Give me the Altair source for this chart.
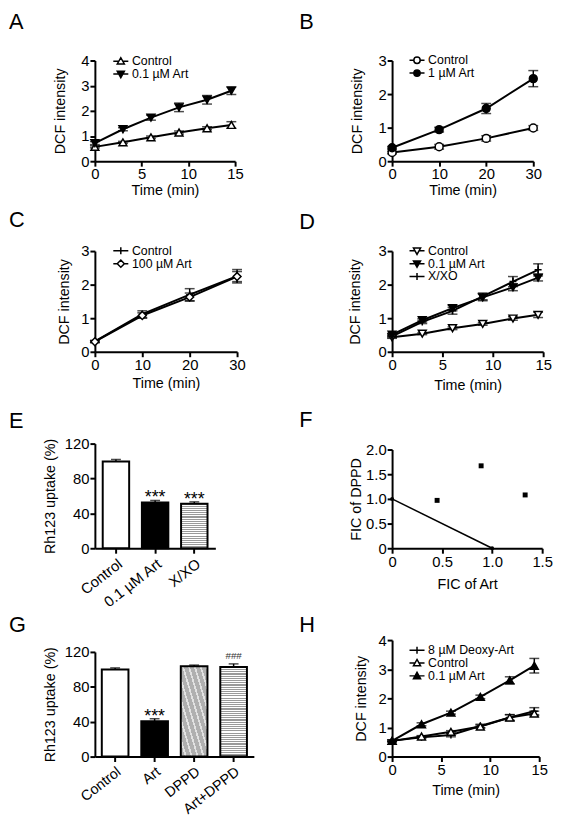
import altair as alt
import pandas as pd

FONT = "Liberation Sans"

# ---------------- data ----------------
# Panel A
A_time = [0, 3, 6, 9, 12, 14.6]
A_ctrl = [0.57, 0.75, 0.95, 1.14, 1.31, 1.44]
A_ctrl_err = [0.04, 0.04, 0.05, 0.06, 0.06, 0.13]
A_art = [0.72, 1.27, 1.73, 2.14, 2.44, 2.80]
A_art_err = [0.06, 0.06, 0.10, 0.17, 0.17, 0.15]
# Panel B
B_time = [0, 10, 20, 30]
B_ctrl = [0.26, 0.43, 0.68, 0.99]
B_ctrl_err = [0.04, 0.07, 0.08, 0.07]
B_art = [0.40, 0.94, 1.57, 2.46]
B_art_err = [0.04, 0.07, 0.15, 0.24]
# Panel C
C_time = [0, 10, 20, 30]
C_ctrl = [0.31, 1.12, 1.70, 2.25]
C_ctrl_err = [0.03, 0.10, 0.18, 0.20]
C_art = [0.30, 1.08, 1.63, 2.24]
C_art_err = [0.03, 0.08, 0.12, 0.15]
# Panel D
D_time = [0, 3, 6, 9, 12, 14.5]
D_ctrl = [0.43, 0.54, 0.70, 0.83, 0.99, 1.10]
D_ctrl_err = [0.03, 0.03, 0.04, 0.04, 0.05, 0.08]
D_art = [0.51, 0.94, 1.30, 1.62, 1.92, 2.21]
D_art_err = [0.04, 0.05, 0.08, 0.10, 0.10, 0.10]
D_xxo = [0.46, 0.89, 1.22, 1.65, 2.09, 2.44]
D_xxo_err = [0.04, 0.05, 0.10, 0.10, 0.15, 0.18]
# Panel E
E_cat = ["Control", "0.1 µM Art", "X/XO"]
E_val = [99.6, 52.5, 51.0]
E_err = [2.2, 2.3, 2.2]
E_sig = ["", "***", "***"]
# Panel F
F_x = [0.45, 0.89, 1.33]
F_y = [0.97, 1.67, 1.08]
F_line_x = [0.0, 1.0]
F_line_y = [1.0, 0.0]
# Panel G
G_cat = ["Control", "Art", "DPPD", "Art+DPPD"]
G_val = [99.9, 40.6, 103.6, 102.8]
G_err = [1.8, 2.8, 1.3, 3.5]
G_sig = ["", "***", "", "###"]
# Panel H
H_time = [0, 3, 6, 9, 12, 14.5]
H_deoxy = [0.54, 0.66, 0.74, 1.05, 1.34, 1.56]
H_deoxy_err = [0.03, 0.04, 0.06, 0.06, 0.10, 0.12]
H_ctrl = [0.54, 0.69, 0.85, 1.03, 1.34, 1.48]
H_ctrl_err = [0.03, 0.03, 0.04, 0.05, 0.10, 0.08]
H_art = [0.54, 1.11, 1.51, 2.05, 2.62, 3.12]
H_art_err = [0.03, 0.05, 0.05, 0.06, 0.12, 0.25]

# ---------------- symbols ----------------
PLUS = "M-1,0H1M0,-1V1"
L_TRI_UP_OPEN = "M-1.9,0H-0.5M0.5,0H1.9M-0.9,0.7L0.9,0.7L0,-0.9Z"
L_TRI_UP = "M-1.9,0H1.9M-0.9,0.7L0.9,0.7L0,-0.9Z"
L_TRI_DOWN_OPEN = "M-1.9,0H-0.5M0.5,0H1.9M-0.9,-0.7L0.9,-0.7L0,0.9Z"
L_TRI_DOWN = "M-1.9,0H1.9M-0.9,-0.7L0.9,-0.7L0,0.9Z"
L_CIRC_OPEN = "M-1.9,0H-0.8M0.8,0H1.9M0.8,0A0.8,0.8,0,1,1,-0.8,0A0.8,0.8,0,1,1,0.8,0Z"
L_CIRC = "M-1.9,0H1.9M0.8,0A0.8,0.8,0,1,1,-0.8,0A0.8,0.8,0,1,1,0.8,0Z"
L_DIAM_OPEN = "M-1.9,0H-0.9M0.9,0H1.9M0,-0.9L0.9,0L0,0.9L-0.9,0Z"
L_PLUS = "M-1.9,0H1.9M0,-0.9V0.9"

TW = "normal"


def stripes(n, c1, c2, frac, x1, y1, x2, y2):
    stops = []
    for i in range(n):
        a = i / n
        b = (i + frac) / n
        c = (i + 1) / n
        stops += [alt.GradientStop(offset=a, color=c1), alt.GradientStop(offset=b, color=c1),
                  alt.GradientStop(offset=b, color=c2), alt.GradientStop(offset=c, color=c2)]
    return alt.Gradient(gradient="linear", stops=stops, x1=x1, y1=y1, x2=x2, y2=y2)


HSTRIPE_E = stripes(21, "#9a9a9a", "#ffffff", 0.5, 0, 0, 0, 1)
HSTRIPE_G = stripes(41, "#9a9a9a", "#ffffff", 0.5, 0, 0, 0, 1)
DIAG_G = stripes(9, "#b0b0b0", "#e2e2e2", 0.7, 0, 1, 1, 0)


def letter_layer(letter, lx, ly):
    return alt.Chart(pd.DataFrame({"label": [letter]})).mark_text(
        font=FONT, fontSize=22, align="left", baseline="alphabetic", color="black"
    ).encode(text="label:N", x=alt.value(lx), y=alt.value(ly))


def line_panel(letter, series, xdom, xticks, ydom, yticks, width, height, yrange,
               legx, legy, rowpad, lx, ly, ytp, xtp):
    rows = []
    for s in series:
        for t, v, e in zip(s[1], s[2], s[3]):
            rows.append({"s": s[0], "t": t, "v": v, "lo": v - e, "hi": v + e})
    df = pd.DataFrame(rows)
    base = alt.Chart(df)
    xs = alt.Scale(domain=xdom, nice=False, zero=False)
    ys = alt.Scale(domain=ydom, nice=False, zero=False, range=yrange)
    xax = alt.Axis(values=xticks, title="Time (min)", titlePadding=xtp, titleFontWeight=TW)
    yax = alt.Axis(values=yticks, title="DCF intensity", titlePadding=ytp, titleFontWeight=TW)
    X = alt.X("t:Q", scale=xs, axis=xax)

    def Y(f):
        return alt.Y(f + ":Q", scale=ys, axis=yax)

    layers = [
        base.mark_line(color="black", strokeWidth=2).encode(x=X, y=Y("v"), detail="s:N"),
        base.mark_rule(color="black", strokeWidth=1.5).encode(x=X, y=Y("lo"), y2="hi:Q"),
        base.mark_tick(orient="horizontal", color="black", size=10, thickness=1.5).encode(x=X, y=Y("lo")),
        base.mark_tick(orient="horizontal", color="black", size=10, thickness=1.5).encode(x=X, y=Y("hi")),
    ]
    for name, tt, vv, ee, shp, fil, lp, lf in series:
        layers.append(
            base.transform_filter(alt.datum.s == name)
            .mark_point(shape=shp, size=(50 if shp == PLUS else 64), filled=True, fill=fil,
                        stroke="black", strokeWidth=1.5, opacity=1)
            .encode(x=X, y=Y("v"))
        )
    names = [s[0] for s in series]
    leg = alt.Legend(orient="none", legendX=legx, legendY=legy, title=None,
                     labelFont=FONT, labelFontSize=12.5, labelColor="black",
                     symbolSize=64, symbolStrokeWidth=1.5, symbolStrokeColor="black",
                     symbolOffset=3, labelOffset=5, rowPadding=rowpad, padding=0)
    layers.append(
        base.transform_filter("false")
        .mark_point(filled=True, strokeWidth=1.5, opacity=1, size=64)
        .encode(
            x=X, y=Y("v"),
            shape=alt.Shape("s:N", scale=alt.Scale(domain=names, range=[s[6] for s in series]), legend=leg),
            fill=alt.Fill("s:N", scale=alt.Scale(domain=names, range=[s[7] for s in series]), legend=leg),
            stroke=alt.Stroke("s:N", scale=alt.Scale(domain=names, range=["black"] * len(names)), legend=leg),
        )
    )
    layers.append(letter_layer(letter, lx, ly))
    return alt.layer(*layers).properties(width=width, height=height)


def bar_panel(letter, cats, vals, errs, sigs, fills, width, height, yrange, po, lx, ly, ytp, lfs):
    df = pd.DataFrame({"c": cats, "v": vals,
                       "hi": [v + e for v, e in zip(vals, errs)], "sig": sigs})
    base = alt.Chart(df)
    X = alt.X("c:N", sort=cats, scale=alt.Scale(paddingInner=0.325, paddingOuter=po),
              axis=alt.Axis(title=None, labelAngle=-38, labelAlign="right", labelBaseline="top",
                            labelFontSize=lfs, labelPadding=3))
    ys = alt.Scale(domain=[0, 120], nice=False, range=yrange)
    yax = alt.Axis(values=[0, 40, 80, 120], title="Rh123 uptake (%)", titlePadding=ytp, titleFontWeight=TW)

    def Y(f):
        return alt.Y(f + ":Q", scale=ys, axis=yax)

    layers = []
    for c, f in zip(cats, fills):
        layers.append(base.transform_filter(alt.datum.c == c)
                      .mark_bar(fill=f, stroke="black", strokeWidth=2)
                      .encode(x=X, y=Y("v")))
    layers.append(base.mark_rule(color="black", strokeWidth=1.5).encode(x=X, y=Y("v"), y2="hi:Q"))
    layers.append(base.mark_tick(orient="horizontal", color="black", size=10, thickness=1.5)
                  .encode(x=X, y=Y("hi")))
    layers.append(base.transform_filter(alt.datum.sig == "***")
                  .mark_text(font=FONT, fontSize=18, baseline="alphabetic", dy=3, color="black")
                  .encode(x=X, y=Y("hi"), text="sig:N"))
    layers.append(base.transform_filter(alt.datum.sig == "###")
                  .mark_text(font=FONT, fontSize=10, baseline="alphabetic", dy=-4.5, color="#333333")
                  .encode(x=X, y=Y("hi"), text="sig:N"))
    layers.append(letter_layer(letter, lx, ly))
    return alt.layer(*layers).properties(width=width, height=height)


def fic_panel(width, height, yrange, lx, ly):
    pts = pd.DataFrame({"x": F_x, "y": F_y})
    ln = pd.DataFrame({"x": F_line_x, "y": F_line_y})
    fmt = "datum.value == 0 ? '0' : format(datum.value, '.1f')"
    xs = alt.Scale(domain=[0, 1.5], nice=False)
    ys = alt.Scale(domain=[0, 2], nice=False, range=yrange)
    X = alt.X("x:Q", scale=xs, axis=alt.Axis(values=[0, 0.5, 1, 1.5], labelExpr=fmt,
                                              title="FIC of Art", titlePadding=9, titleFontWeight=TW))
    Y = alt.Y("y:Q", scale=ys, axis=alt.Axis(values=[0, 0.5, 1, 1.5, 2], labelExpr=fmt,
                                              title="FIC of DPPD", titlePadding=2.5, titleFontWeight=TW))
    line = alt.Chart(ln).mark_line(color="black", strokeWidth=1.5).encode(x=X, y=Y)
    ends = alt.Chart(ln).mark_point(shape="circle", size=16, filled=True, color="black", opacity=1).encode(x=X, y=Y)
    sq = alt.Chart(pts).mark_point(shape="square", size=25, filled=True, color="black", opacity=1).encode(x=X, y=Y)
    return alt.layer(line, ends, sq, letter_layer("F", lx, ly)).properties(width=width, height=height)


LX = -87
RX = -94

pA = line_panel("A", [
    ("Control", A_time, A_ctrl, A_ctrl_err, "triangle-up", "white", L_TRI_UP_OPEN, "white"),
    ("0.1 µM Art", A_time, A_art, A_art_err, "triangle-down", "black", L_TRI_DOWN, "black"),
], [0, 15], [0, 5, 10, 15], [0, 4], [0, 1, 2, 3, 4], 142, 102, [102, 0],
    17, -5.5, -4, LX, -32, 13.5, 2)

pB = line_panel("B", [
    ("Control", B_time, B_ctrl, B_ctrl_err, "circle", "white", L_CIRC_OPEN, "white"),
    ("1 µM Art", B_time, B_art, B_art_err, "circle", "black", L_CIRC, "black"),
], [0, 30], [0, 10, 20, 30], [0, 3], [0, 1, 2, 3], 143, 102, [102, 0],
    16, -6.5, -3, RX, -32, 13.5, 2)

pC = line_panel("C", [
    ("Control", C_time, C_ctrl, C_ctrl_err, PLUS, "black", L_PLUS, "black"),
    ("100 µM Art", C_time, C_art, C_art_err, "diamond", "white", L_DIAM_OPEN, "white"),
], [0, 30], [0, 10, 20, 30], [0, 3], [0, 1, 2, 3], 144, 102, [102, 0],
    17, -6.5, -4, LX, -24, 9.5, 4)

pD = line_panel("D", [
    ("Control", D_time, D_ctrl, D_ctrl_err, "triangle-down", "white", L_TRI_DOWN_OPEN, "white"),
    ("0.1 µM Art", D_time, D_art, D_art_err, "triangle-down", "black", L_TRI_DOWN, "black"),
    ("X/XO", D_time, D_xxo, D_xxo_err, PLUS, "black", L_PLUS, "black"),
], [0, 15], [0, 5, 10, 15], [0, 3], [0, 1, 2, 3], 153, 102, [102, 0],
    16, -6.5, -4, RX, -22, 15.5, 6)

pE = bar_panel("E", E_cat, E_val, E_err, E_sig, ["white", "black", HSTRIPE_E],
               122, 108, [108, 2], 0.2, LX, -14, 7, 15)

pF = fic_panel(152, 108, [108, 8], RX, -15)

pG = bar_panel("G", G_cat, G_val, G_err, G_sig, ["white", "black", DIAG_G, HSTRIPE_G],
               161, 120, [120, 14], 0.175, LX, -6, 7, 14.5)

pH = line_panel("H", [
    ("8 µM Deoxy-Art", H_time, H_deoxy, H_deoxy_err, PLUS, "black", L_PLUS, "black"),
    ("Control", H_time, H_ctrl, H_ctrl_err, "triangle-up", "white", L_TRI_UP_OPEN, "white"),
    ("0.1 µM Art", H_time, H_art, H_art_err, "triangle-up", "black", L_TRI_UP, "black"),
], [0, 15], [0, 5, 10, 15], [0, 4], [0, 1, 2, 3, 4], 149, 120, [120, 2],
    16, 6, -3, RX, -6, 9.5, 6)

chart = alt.concat(
    pA, pB, pC, pD, pE, pF, pG, pH,
    columns=2, spacing={"row": 91, "column": 140}, bounds="flush", align="each",
).resolve_scale(
    shape="independent", fill="independent", stroke="independent"
).resolve_legend(
    shape="independent", fill="independent", stroke="independent"
).properties(
    autosize="none",
    padding={"left": 88, "top": 48, "right": 466, "bottom": 761},
).configure_view(
    stroke=None
).configure_axis(
    domainColor="black", domainWidth=2, tickColor="black", tickWidth=2, tickSize=5,
    labelColor="black", labelFont=FONT, labelFontSize=15, labelPadding=1,
    titleFont=FONT, titleFontSize=14.5, titleFontWeight="normal", titleColor="black",
    grid=False, labelFlush=False, labelOverlap=False,
)

chart.save("out.html", embed_options={"renderer": "svg", "actions": False})
